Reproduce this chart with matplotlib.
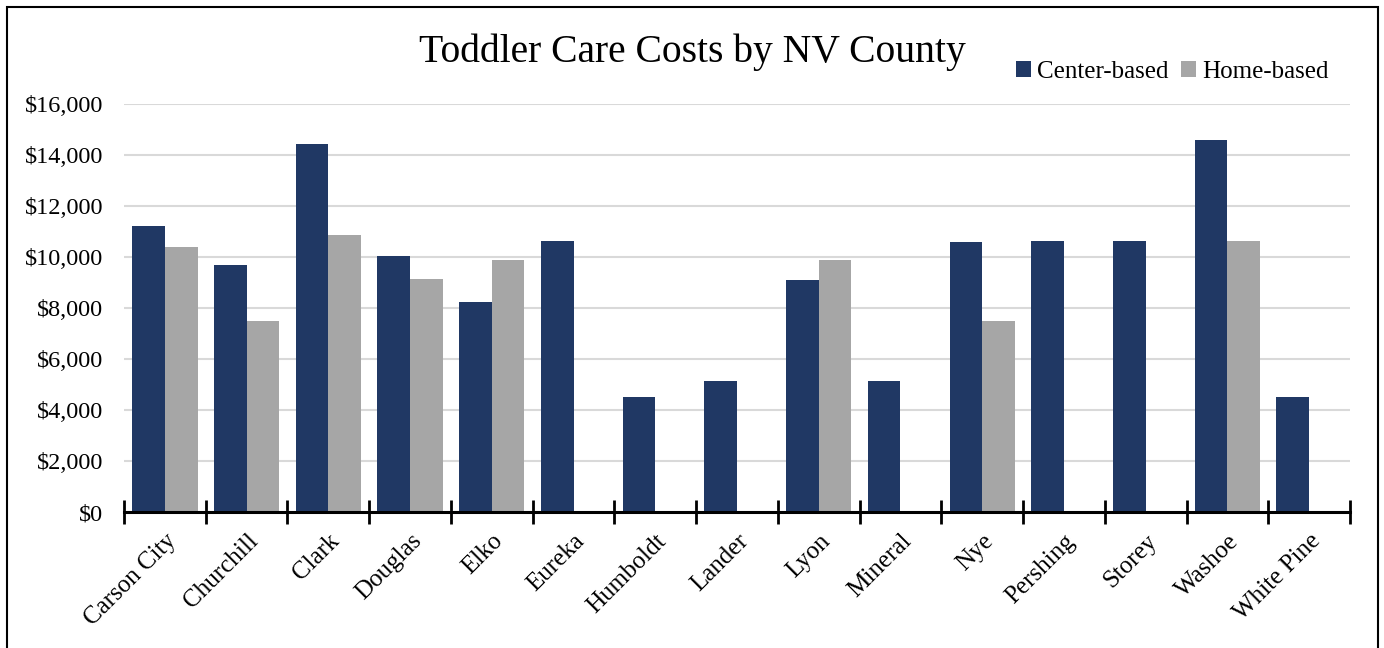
import matplotlib
matplotlib.use("Agg")
import matplotlib.pyplot as plt
import numpy as np
from matplotlib.patches import Rectangle
from matplotlib.ticker import FuncFormatter, FixedLocator

counties = ["Carson City", "Churchill", "Clark", "Douglas", "Elko", "Eureka",
            "Humboldt", "Lander", "Lyon", "Mineral", "Nye", "Pershing",
            "Storey", "Washoe", "White Pine"]
center_based = [11200, 9700, 14450, 10050, 8220, 10620, 4520, 5130, 9080,
                5130, 10600, 10620, 10620, 14600, 4520]
home_based = [10380, 7480, 10880, 9150, 9900, np.nan, np.nan, np.nan, 9900,
              np.nan, 7480, np.nan, np.nan, 10640, np.nan]
y_ticks = [0, 2000, 4000, 6000, 8000, 10000, 12000, 14000, 16000]

plt.rcParams['font.family'] = ['Liberation Serif', 'DejaVu Serif']

NAVY = "#203864"
GREY = "#A6A6A6"

fig = plt.figure(figsize=(13.84, 6.48), dpi=100)
ax = fig.add_axes([124/1384, 1-512/648, (1350-124)/1384, (512-104)/648])

x = np.arange(len(counties))
w = 0.4
ax.bar(x - w/2, center_based, width=w, color=NAVY, label="Center-based", zorder=3)
ax.bar(x + w/2, home_based, width=w, color=GREY, label="Home-based", zorder=3)

ax.set_xlim(-0.5, len(counties) - 0.5)
ax.set_ylim(0, 16000)
ax.set_yticks(y_ticks)
ax.yaxis.set_major_formatter(FuncFormatter(lambda v, p: f"${v:,.0f}"))
ax.grid(axis='y', color="#D9D9D9", linewidth=1.5, zorder=0)
ax.tick_params(axis='y', length=0, pad=15, labelsize=17.5)

for s in ['left', 'right', 'top']:
    ax.spines[s].set_visible(False)
ax.spines['bottom'].set_linewidth(2.2)
ax.spines['bottom'].set_zorder(4)

ax.set_xticks(x)
ax.set_xticklabels(counties, rotation=45, ha='right', rotation_mode='anchor', fontsize=18)
ax.tick_params(axis='x', which='major', length=0, pad=13)
ax.xaxis.set_minor_locator(FixedLocator(np.arange(-0.5, len(counties), 1.0)))
ax.tick_params(axis='x', which='minor', direction='inout', length=17, width=2)

fig.text(0.5, 1-62/648, "Toddler Care Costs by NV County", ha='center',
         va='baseline', fontsize=28.5)

fig.legend(loc='center right', bbox_to_anchor=(1329/1384, 1-72/648), ncol=2,
           frameon=False, fontsize=18, handlelength=0.6, handleheight=0.6,
           handletextpad=0.25, columnspacing=0.5, borderpad=0, borderaxespad=0)

fig.add_artist(Rectangle((7/1384, -0.05), (1378-7)/1384, 1-7/648 + 0.05,
                         transform=fig.transFigure, fill=False,
                         edgecolor='black', linewidth=1.5))

fig.savefig("out.png", dpi=100)
